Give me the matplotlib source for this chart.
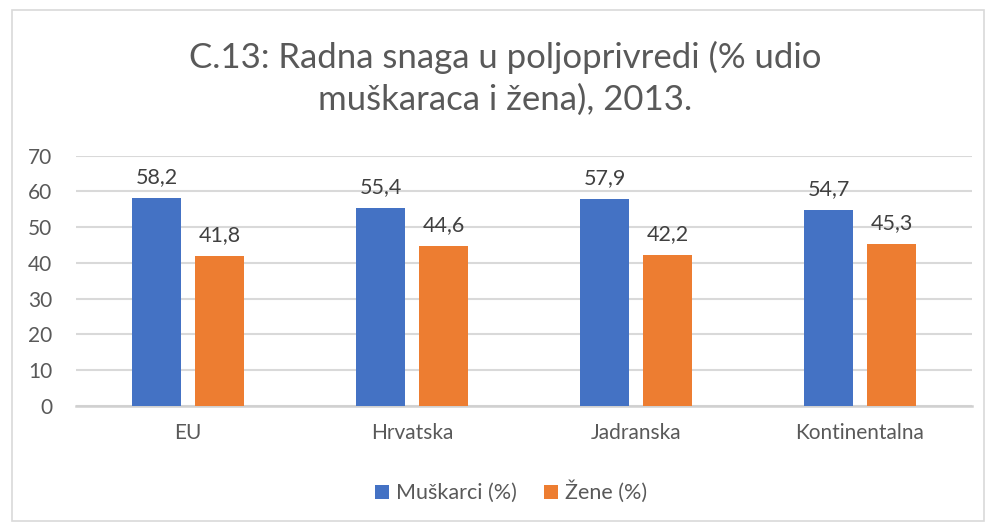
import matplotlib
matplotlib.use('Agg')
import matplotlib.pyplot as plt
import numpy as np
from matplotlib.patches import Rectangle

# data
regije = ['EU', 'Hrvatska', 'Jadranska', 'Kontinentalna']
muskarci = [58.2, 55.4, 57.9, 54.7]
zene = [41.8, 44.6, 42.2, 45.3]
y_ticks = [0, 10, 20, 30, 40, 50, 60, 70]

plava = '#4472C4'
narancasta = '#ED7D31'
siva_tekst = '#595959'

plt.rcParams['font.family'] = ['Lato', 'DejaVu Sans']

fig = plt.figure(figsize=(9.86, 5.22), dpi=100)
W, H = 986, 522
ax = fig.add_axes([76 / W, 1 - 406 / H, (972 - 76) / W, (406 - 155.5) / H])

x = np.arange(len(regije))
sirina = 0.223
pomak = 0.1406
b1 = ax.bar(x - pomak, muskarci, sirina, color=plava, label='Muškarci (%)', zorder=3)
b2 = ax.bar(x + pomak, zene, sirina, color=narancasta, label='Žene (%)', zorder=3)

for bars in (b1, b2):
    for b in bars:
        v = b.get_height()
        ax.annotate(str(v).replace('.', ','), (b.get_x() + b.get_width() / 2, v),
                    xytext=(0, 8), textcoords='offset points', ha='center', va='bottom',
                    fontsize=15.5, color='#404040')

ax.set_xlim(-0.5, len(regije) - 0.5)
ax.set_ylim(0, 70)
ax.set_yticks(y_ticks)
ax.set_xticks(x)
ax.set_xticklabels(regije)
ax.grid(axis='y', color='#d9d9d9', linewidth=1.5, zorder=0)
for s in ['top', 'right', 'left']:
    ax.spines[s].set_visible(False)
ax.spines['bottom'].set_color('#d0d0d0')
ax.spines['bottom'].set_linewidth(1.8)
ax.tick_params(axis='both', length=0, labelsize=15, colors=siva_tekst)
ax.tick_params(axis='x', pad=12)
ax.tick_params(axis='y', pad=17)

fig.text(505 / W, 1 - 57 / H, 'C.13: Radna snaga u poljoprivredi (% udio', ha='center', va='center',
         fontsize=25, color=siva_tekst)
fig.text(505 / W, 1 - 100 / H, 'muškaraca i žena), 2013.', ha='center', va='center',
         fontsize=25, color=siva_tekst)

fig.legend(handles=[b1, b2], loc='center', bbox_to_anchor=(511 / W, 1 - 492 / H), ncol=2,
           frameon=False, fontsize=15.5, labelcolor=siva_tekst, handlelength=0.65, handleheight=0.65,
           handletextpad=0.3, columnspacing=1.3)

fig.patches.append(Rectangle((12 / W, 0.002), 1 - 12 / W - 0.002, 1 - 10 / H - 0.002,
                             transform=fig.transFigure, fill=False, edgecolor='#d9d9d9', linewidth=1.2))

fig.savefig('out.png', dpi=100)
